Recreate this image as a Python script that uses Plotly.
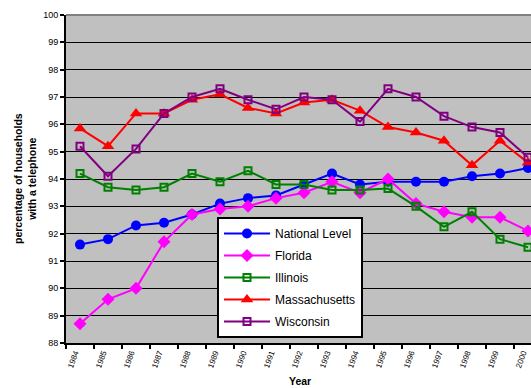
import plotly.graph_objects as go

years = [str(y) for y in range(1984, 2001)]

national = [91.6, 91.8, 92.3, 92.4, 92.7, 93.1, 93.3, 93.4, 93.8, 94.2, 93.8, 93.9, 93.9, 93.9, 94.1, 94.2, 94.4]
florida = [88.7, 89.6, 90.0, 91.7, 92.7, 92.9, 93.0, 93.3, 93.5, 93.9, 93.5, 94.0, 93.1, 92.8, 92.6, 92.6, 92.1]
illinois = [94.2, 93.7, 93.6, 93.7, 94.2, 93.9, 94.3, 93.8, 93.8, 93.6, 93.6, 93.65, 93.0, 92.25, 92.8, 91.8, 91.5]
massachusetts = [95.85, 95.2, 96.4, 96.4, 96.9, 97.1, 96.6, 96.4, 96.8, 96.9, 96.5, 95.9, 95.7, 95.4, 94.5, 95.4, 94.6]
wisconsin = [95.2, 94.1, 95.1, 96.4, 97.0, 97.3, 96.9, 96.55, 97.0, 96.9, 96.1, 97.3, 97.0, 96.3, 95.9, 95.7, 94.8]

y_ticks = list(range(88, 101))

series = [
    ("National Level", national, "#0000FF", "circle", 10, 0),
    ("Florida", florida, "#FF00FF", "diamond", 10, 0),
    ("Illinois", illinois, "#008000", "square-open", 7, 2),
    ("Massachusetts", massachusetts, "#FF0000", "triangle-up", 11, 0),
    ("Wisconsin", wisconsin, "#800080", "square-open", 7, 2),
]

fig = go.Figure()
for name, vals, color, symbol, size, mlw in series:
    fig.add_trace(go.Scatter(
        x=years, y=vals, name=name, legendgroup=name,
        mode="lines+markers",
        line=dict(color=color, width=2),
        marker=dict(symbol=symbol, size=size, color=color,
                    line=dict(color=color, width=mlw)),
    ))

fig.update_layout(
    width=531, height=388,
    margin=dict(l=66, r=0, t=15, b=45),
    paper_bgcolor="white",
    plot_bgcolor="#C0C0C0",
    font=dict(family="Liberation Sans, Arial, sans-serif", color="black"),
    showlegend=True,
    legend=dict(
        x=(217 - 66) / 465, y=(343 - 217) / 328,
        xanchor="left", yanchor="top",
        bgcolor="white", bordercolor="black", borderwidth=2,
        font=dict(size=12, color="black"),
        tracegroupgap=3, itemwidth=46,
    ),
)

fig.update_xaxes(
    type="category",
    range=[-0.5, 16.107],
    tickson="boundaries",
    ticks="outside", ticklen=4, tickwidth=2, tickcolor="black",
    showline=True, linecolor="black", linewidth=2,
    showgrid=False, zeroline=False,
    tickangle=-70,
    ticklabelshift=-5,
    tickfont=dict(size=8, color="black"),
)

fig.update_yaxes(
    range=[88, 100],
    tickvals=y_ticks,
    ticks="outside", ticklen=4, tickwidth=2, tickcolor="black",
    showline=True, linecolor="black", linewidth=2,
    showgrid=True, gridcolor="black", gridwidth=1,
    zeroline=False,
    tickfont=dict(size=9, color="black"),
)

# grey top border of the plot area
fig.add_shape(type="line", xref="paper", yref="paper", x0=0, x1=1, y0=1, y1=1,
              line=dict(color="#808080", width=2), layer="above")

# axis titles
fig.add_annotation(text="<b>percentage of households<br>with a telephone</b>",
                   xref="paper", yref="paper", x=-66 / 465 + 25 / 465, y=0.5,
                   textangle=-90, showarrow=False,
                   font=dict(size=10.5, color="black"), xanchor="center", yanchor="middle")
fig.add_annotation(text="<b>Year</b>",
                   xref="paper", yref="paper", x=(300 - 66) / 465, y=-(381 - 343) / 328,
                   showarrow=False, font=dict(size=10.5, color="black"),
                   xanchor="center", yanchor="middle")

fig.write_html("out.html")
